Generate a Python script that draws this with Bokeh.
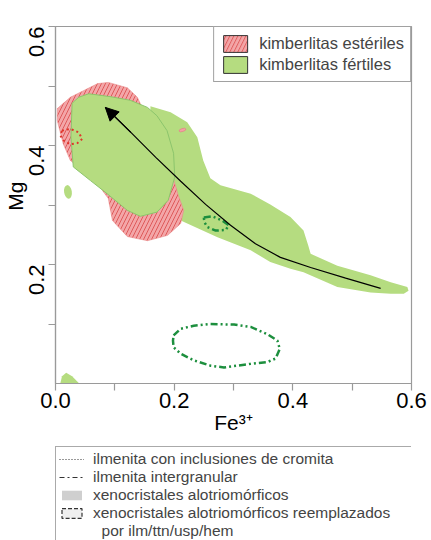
import math
from bokeh.plotting import figure
from bokeh.models import (Legend, LegendItem, Arrow, NormalHead,
                          FixedTicker, PrintfTickFormatter)
from bokeh.layouts import column
from bokeh.embed import file_html
from bokeh.resources import INLINE

FONT = "Liberation Sans"
GRAY = "#9a9a9a"
GREEN = "#b5dc80"
GREEN_EDGE = "#8cc56c"
RED_FILL = "#f3a6a8"
RED_HATCH = "#de5a5a"
DARK_GREEN = "#1d8f3e"
RED_DOT = "#e0352b"
NAN = float("nan")

# ---------------- data ----------------
x_major = [0.0, 0.2, 0.4, 0.6]
x_minor = [0.1, 0.3, 0.5]
y_major = [0.2, 0.4, 0.6]
y_minor = [0.1, 0.3, 0.5]
x_title = "Fe³⁺"
y_title = "Mg"

# kimberlitas estériles (hatched red field)
esteriles_x = [0.089, 0.121, 0.138, 0.145, 0.185, 0.207, 0.216, 0.211, 0.189, 0.155,
               0.121, 0.096, 0.089, 0.067, 0.025, 0.013, 0.003, 0.003, 0.025, 0.047, 0.071]
esteriles_y = [0.506, 0.497, 0.481, 0.466, 0.392, 0.316, 0.291, 0.269, 0.249, 0.240,
               0.247, 0.274, 0.311, 0.341, 0.375, 0.403, 0.442, 0.462, 0.481, 0.492, 0.504]

# kimberlitas fértiles: elongated trend band
banda_x = [0.160, 0.194, 0.222, 0.239, 0.249, 0.261, 0.278, 0.329, 0.362, 0.396,
           0.418, 0.426, 0.430, 0.475, 0.531, 0.565, 0.593, 0.595, 0.587, 0.565,
           0.531, 0.475, 0.418, 0.396, 0.362, 0.329, 0.273, 0.211, 0.190, 0.177, 0.160]
banda_y = [0.466, 0.456, 0.439, 0.414, 0.375, 0.345, 0.333, 0.319, 0.301, 0.280,
           0.257, 0.232, 0.218, 0.198, 0.182, 0.170, 0.162, 0.156, 0.151, 0.151,
           0.153, 0.162, 0.187, 0.193, 0.204, 0.224, 0.246, 0.274, 0.299, 0.358, 0.425]

# kimberlitas fértiles: main field (outlined)
fertiles_x = [0.030, 0.039, 0.056, 0.093, 0.126, 0.155, 0.171, 0.188, 0.199, 0.201,
              0.190, 0.171, 0.143, 0.121, 0.087, 0.059, 0.030, 0.026, 0.028]
fertiles_y = [0.473, 0.481, 0.487, 0.482, 0.476, 0.464, 0.450, 0.425, 0.387, 0.347,
              0.308, 0.288, 0.281, 0.291, 0.319, 0.341, 0.364, 0.414, 0.471]

# small fértiles spots
spot_x = [0.021]
spot_y = [0.322]
spot_w = [0.013]
spot_h = [0.023]
corner_x = [0.008, 0.011, 0.018, 0.028, 0.040]
corner_y = [0.000, 0.012, 0.018, 0.012, 0.000]

# small estériles spot
pink_x = [0.214]
pink_y = [0.426]
pink_w = [0.012]
pink_h = [0.005]

# ilmenita con inclusiones de cromita (dotted red loop)
cromita_x = [0.011, 0.025, 0.039, 0.045, 0.037, 0.025, 0.014, 0.008, 0.011]
cromita_y = [0.425, 0.428, 0.422, 0.411, 0.404, 0.402, 0.408, 0.417, 0.425]

# ilmenita intergranular (dash-dot loops)
inter1_x = [0.250, 0.264, 0.281, 0.292, 0.287, 0.270, 0.256, 0.251, 0.250]
inter1_y = [0.279, 0.281, 0.274, 0.266, 0.258, 0.257, 0.263, 0.271, 0.279]
inter2_x = [0.199, 0.211, 0.233, 0.261, 0.301, 0.329, 0.357, 0.374, 0.378, 0.371,
            0.357, 0.329, 0.284, 0.261, 0.233, 0.211, 0.199, 0.198, 0.199]
inter2_y = [0.081, 0.092, 0.097, 0.100, 0.099, 0.095, 0.083, 0.072, 0.058, 0.042,
            0.036, 0.033, 0.027, 0.030, 0.039, 0.050, 0.061, 0.072, 0.081]

# evolution trend (arrow head at the first point)
trend_x = [0.084, 0.127, 0.169, 0.211, 0.253, 0.295, 0.337, 0.379, 0.430, 0.489, 0.548]
trend_y = [0.464, 0.422, 0.380, 0.340, 0.301, 0.266, 0.235, 0.212, 0.195, 0.177, 0.160]

# ---------------- main plot ----------------
p = figure(width=431, height=442, x_range=(0, 0.6), y_range=(0, 0.6),
           output_backend="svg", toolbar_location=None,
           min_border_left=55, min_border_right=20, min_border_top=26, min_border_bottom=59,
           outline_line_color=GRAY, outline_line_width=1.2,
           background_fill_color="white", border_fill_color="white")
p.grid.visible = False

p.patch(banda_x, banda_y, fill_color=GREEN, line_color=None)
p.patch(esteriles_x, esteriles_y, fill_color=RED_FILL, line_color="#ea8c8c", line_width=0.6,
        hatch_pattern="/", hatch_color=RED_HATCH, hatch_scale=8, hatch_weight=1)
p.patch(fertiles_x, fertiles_y, fill_color=GREEN, line_color=GREEN_EDGE, line_width=1)
p.ellipse(x=spot_x, y=spot_y, width=spot_w, height=spot_h, angle=0.15,
          fill_color=GREEN, line_color=None)
p.patch(corner_x, corner_y, fill_color=GREEN, line_color=None)
p.ellipse(x=pink_x, y=pink_y, width=pink_w, height=pink_h, angle=0.3,
          fill_color="#f2a0a4", line_color="#e27b7f", line_width=0.6)

p.line(cromita_x, cromita_y, line_color=RED_DOT, line_width=2, line_dash="2 3")
p.line(inter1_x, inter1_y, line_color=DARK_GREEN, line_width=2.5, line_dash="7 3 2 3 2 3")
p.line(inter2_x, inter2_y, line_color=DARK_GREEN, line_width=2.5, line_dash="7 3 2 3 2 3")

p.line(trend_x, trend_y, line_color="black", line_width=1.2)
p.add_layout(Arrow(end=NormalHead(size=13, fill_color="black", line_color="black"),
                   x_start=trend_x[1], y_start=trend_y[1],
                   x_end=trend_x[0], y_end=trend_y[0],
                   line_color="black", line_width=1.2))

for ax in (p.xaxis[0], p.yaxis[0]):
    ax.axis_line_color = GRAY
    ax.axis_line_width = 1.2
    ax.major_tick_line_color = GRAY
    ax.minor_tick_line_color = GRAY
    ax.major_tick_line_width = 1.2
    ax.minor_tick_line_width = 1.2
    ax.major_tick_in = 0
    ax.major_tick_out = 7
    ax.minor_tick_in = 0
    ax.minor_tick_out = 7
    ax.major_label_text_font = FONT
    ax.major_label_text_font_size = "22px"
    ax.major_label_text_color = "black"
    ax.formatter = PrintfTickFormatter(format="%.1f")
    ax.axis_label_text_font = FONT
    ax.axis_label_text_font_size = "21px"
    ax.axis_label_text_font_style = "normal"
    ax.axis_label_text_color = "black"
p.xaxis.ticker = FixedTicker(ticks=x_major, minor_ticks=x_minor)
p.yaxis.ticker = FixedTicker(ticks=y_major, minor_ticks=y_minor)
p.yaxis.major_label_orientation = math.pi / 2
p.xaxis.major_label_standoff = 2
p.yaxis.major_label_standoff = 12
p.xaxis.axis_label = x_title
p.yaxis.axis_label = "\u00a0\u00a0\u00a0" + y_title
p.xaxis.axis_label_standoff = 0
p.yaxis.axis_label_standoff = -8

leg_r = p.patch([NAN], [NAN], fill_color=RED_FILL, hatch_pattern="/", hatch_color=RED_HATCH,
                hatch_scale=8, hatch_weight=1, line_color="#333333", line_width=1)
leg_g = p.patch([NAN], [NAN], fill_color=GREEN, line_color="#333333", line_width=1)
top_legend = Legend(items=[LegendItem(label="kimberlitas estériles", renderers=[leg_r]),
                           LegendItem(label="kimberlitas fértiles", renderers=[leg_g])],
                    location="top_right", margin=0, padding=6, spacing=0,
                    glyph_width=30, glyph_height=21, label_height=15, label_standoff=9,
                    label_text_font=FONT, label_text_font_size="16.5px",
                    border_line_color="#444444", border_line_width=1,
                    background_fill_color="white", background_fill_alpha=1)
p.add_layout(top_legend)

# ---------------- lower legend ----------------
lp = figure(width=431, height=98, x_range=(0, 1), y_range=(0, 1),
            output_backend="svg", toolbar_location=None,
            x_axis_location=None, y_axis_location=None,
            min_border_left=55, min_border_right=0, min_border_top=4, min_border_bottom=0,
            outline_line_color=None)
lp.grid.visible = False
r1 = lp.line([NAN], [NAN], line_color="#333333", line_width=1, line_dash="1 2")
r2 = lp.line([NAN], [NAN], line_color="#333333", line_width=1.2, line_dash="5 3 2 3")
r3 = lp.patch([NAN], [NAN], fill_color="#cfcfcf", line_color=None)
r4 = lp.patch([NAN], [NAN], fill_color="#efefef", line_color="#333333", line_width=1.2,
              line_dash="4 2")
r5 = lp.line([NAN], [NAN], line_alpha=0)
bottom_legend = Legend(items=[
    LegendItem(label="ilmenita con inclusiones de cromita", renderers=[r1]),
    LegendItem(label="ilmenita intergranular", renderers=[r2]),
    LegendItem(label="xenocristales alotriomórficos", renderers=[r3]),
    LegendItem(label="xenocristales alotriomórficos reemplazados", renderers=[r4]),
    LegendItem(label="\u00a0\u00a0por ilm/ttn/usp/hem", renderers=[r5])],
    location="top_left", margin=0, padding=3, spacing=0,
    glyph_width=25, glyph_height=12, label_height=12, label_width=322, label_standoff=9,
    label_text_font=FONT, label_text_font_size="15.5px",
    border_line_color="#555555", border_line_width=1.5,
    background_fill_color="white", background_fill_alpha=1)
lp.add_layout(bottom_legend)

layout = column(p, lp, spacing=0)
open("out.html", "w").write(file_html(layout, INLINE))
